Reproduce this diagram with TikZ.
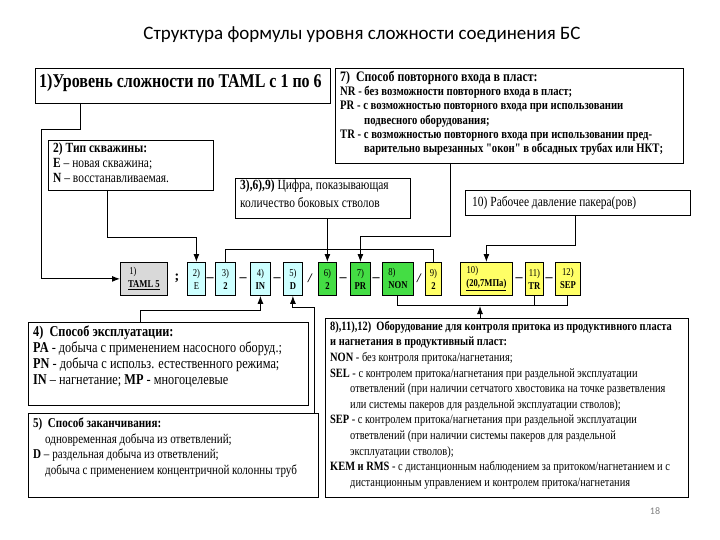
\documentclass[tikz,border=0pt]{standalone}
\usepackage{fontspec}
\setmainfont{Liberation Serif}
\newfontfamily\cond[FakeStretch=0.82]{Liberation Serif}
\newfontfamily\ttl{Carlito}
\usetikzlibrary{arrows.meta}
\definecolor{cgray}{HTML}{D9D9D9}
\definecolor{cblue}{HTML}{CCFFFF}
\definecolor{cgreen}{HTML}{44DD44}
\definecolor{cyel}{HTML}{FFFF66}
\tikzset{
  box/.style={draw=black, line width=1pt, fill=white, inner sep=0pt},
  txt/.style={anchor=north west, align=left, inner sep=0pt, font=\cond},
  code/.style={draw=black, line width=0.8pt, inner sep=0pt, minimum height=33, align=center, font=\cond\fontsize{10.5}{11}\selectfont},
  sep/.style={font=\bfseries\fontsize{14}{14}\selectfont, inner sep=0pt},
  con/.style={draw=black, line width=1pt},
  arr/.style={con, -{Latex[length=8pt,width=6pt]}},
}
\begin{document}
\begin{tikzpicture}[x=1pt,y=-1pt]
\useasboundingbox (0,0) rectangle (720,540);
\node[font=\ttl\fontsize{19}{20}\selectfont] (title) at (362,35) {Структура формулы уровня сложности соединения БС};
% top boxes
\node[box, minimum width=295, minimum height=35, anchor=north west] (b1) at (35,68) {};
\node[txt, font=\cond\fontsize{19.5}{20}\selectfont\bfseries] (t1) at (39,74) {1)Уровень сложности по TAML с 1 по 6};
\node[box, minimum width=348, minimum height=95, anchor=north west] (b7) at (335,68) {};
\node[txt, font=\cond\bfseries\fontsize{13}{14.2}\selectfont] (t7) at (340,71) {{\fontsize{14.5}{14}\selectfont 7)\ \ Способ повторного входа в пласт:}\\
NR - без возможности повторного входа в пласт;\\
PR - с возможностью повторного входа при использовании\\
\hspace*{24pt}подвесного оборудования;\\
TR - с возможностью повторного входа при использовании пред-\\
\hspace*{24pt}варительно вырезанных "окон" в обсадных трубах или НКТ;};
\node[box, minimum width=165, minimum height=50, anchor=north west] (b2) at (48,140) {};
\node[txt, font=\cond\fontsize{14}{15}\selectfont] (t2) at (53,143) {\textbf{2) Тип скважины:}\\ \textbf{E} – новая скважина;\\ \textbf{N} – восстанавливаемая.};
\node[box, minimum width=175, minimum height=40, anchor=north west] (b3) at (235,178) {};
\node[txt, font=\cond\fontsize{14}{18}\selectfont] (t3) at (240,180) {\textbf{3),6),9)} Цифра, показывающая\\ количество боковых стволов};
\node[box, minimum width=225, minimum height=25, anchor=north west] (b10) at (465,190) {};
\node[txt, font=\cond\fontsize{14}{14}\selectfont] (t10) at (472,196) {10) Рабочее давление пакера(ров)};
% codes row
\node[code, fill=cgray, minimum width=47, anchor=north west] (c1) at (120,262) {1)\hspace*{22pt}\\[2pt]\textbf{\underline{TAML 5}}};
\node[sep] (s1) at (177,278) {;};
\node[code, fill=cblue, minimum width=18, anchor=north west] (c2) at (187,262) {2)\\[2pt]E};
\node[code, fill=cblue, minimum width=20, anchor=north west] (c3) at (215,262) {3)\\[2pt]\textbf{2}};
\node[code, fill=cblue, minimum width=20, anchor=north west] (c4) at (250,262) {4)\\[2pt]\textbf{IN}};
\node[code, fill=cblue, minimum width=19, anchor=north west] (c5) at (283,262) {5)\\[2pt]\textbf{D}};
\node[code, fill=cgreen, minimum width=18, anchor=north west] (c6) at (318,262) {6)\\[2pt]\textbf{2}};
\node[code, fill=cgreen, minimum width=20, anchor=north west] (c7) at (350,262) {7)\\[2pt]\textbf{PR}};
\node[code, fill=cgreen, minimum width=31, anchor=north west] (c8) at (382,262) {8)\hspace*{12pt}\\[2pt]\textbf{NON}};
\node[code, fill=cyel, minimum width=16, anchor=north west] (c9) at (425,262) {9)\\[2pt]\textbf{2}};
\node[code, fill=cyel, minimum width=52, anchor=north west] (c10) at (460,262) {10)\hspace*{28pt}\\[2pt]\textbf{\underline{(20,7МПа)}}};
\node[code, fill=cyel, minimum width=18, anchor=north west] (c11) at (525,262) {11)\\[2pt]\textbf{TR}};
\node[code, fill=cyel, minimum width=25, anchor=north west] (c12) at (555,262) {12)\\[2pt]\textbf{SEP}};
\node[sep] (d1) at (210,280) {–};
\node[sep] (d2) at (243,280) {–};
\node[sep] (d3) at (277,280) {–};
\node[sep, font=\itshape\bfseries\fontsize{13}{13}\selectfont] (sl1) at (310,278) {/};
\node[sep] (d4) at (343,280) {–};
\node[sep] (d5) at (376,280) {–};
\node[sep, font=\itshape\bfseries\fontsize{13}{13}\selectfont] (sl2) at (419,278) {/};
\node[sep] (d6) at (519,280) {–};
\node[sep] (d7) at (549,280) {–};
% bottom boxes
\node[box, minimum width=280, minimum height=83, anchor=north west] (b4) at (28,322) {};
\node[txt, font=\cond\fontsize{15}{16}\selectfont] (t4) at (33,326) {\textbf{4)\ \ Способ эксплуатации:}\\
\textbf{PA} - добыча с применением насосного оборуд.;\\
\textbf{PN} - добыча с использ. естественного режима;\\
\textbf{IN} – нагнетание; \textbf{MP} - многоцелевые};
\node[box, minimum width=290, minimum height=84, anchor=north west] (b5) at (28,413) {};
\node[txt, font=\cond\fontsize{13.5}{15.5}\selectfont] (t5) at (33,418) {\textbf{5)\ \ Способ заканчивания:}\\
\hspace*{12pt}одновременная добыча из ответвлений;\\
\textbf{D} – раздельная добыча из ответвлений;\\
\hspace*{12pt}добыча с применением концентричной колонны труб};
\node[box, minimum width=363, minimum height=179, anchor=north west] (b8) at (325,318) {};
\node[txt, font=\cond\fontsize{12.7}{15.6}\selectfont] (t8) at (330,321) {\textbf{8),11),12)\ \ Оборудование для контроля притока из продуктивного пласта}\\
\textbf{и нагнетания в продуктивный пласт:}\\
\textbf{NON} - без контроля притока/нагнетания;\\
\textbf{SEL} - с контролем притока/нагнетания при раздельной эксплуатации\\
\hspace*{20pt}ответвлений (при наличии сетчатого хвостовика на точке разветвления\\
\hspace*{20pt}или системы пакеров для раздельной эксплуатации стволов);\\
\textbf{SEP} - с контролем притока/нагнетания при раздельной эксплуатации\\
\hspace*{20pt}ответвлений (при наличии системы пакеров для раздельной\\
\hspace*{20pt}эксплуатации стволов);\\
\textbf{KEM и RMS} - с дистанционным наблюдением за притоком/нагнетанием и с\\
\hspace*{20pt}дистанционным управлением и контролем притока/нагнетания};
\node[font=\ttl\fontsize{10}{10}\selectfont, text=gray] (pg) at (655,511) {18};
% connectors
\coordinate (k1) at (80,103);
\draw[arr] (k1) -- (80,130) -- (41,130) |- (c1.west);
\coordinate (k2) at (107,190);
\draw[arr] (k2) -- (107,237) -| (c2.north);
\draw[arr] (c6.north |- b3.south) -- (c6.north);
\draw[con] (c3.north) -- ++(0,-13) -| (c9.north);
\coordinate (k7) at (450,163);
\draw[arr] (k7) -- (450,236) -| (c7.north);
\coordinate (k10) at (575,215);
\draw[arr] (k10) -- (575,245) -| (c10.north);
\coordinate (k4) at (140,322);
\draw[arr] (k4) -- (140,310) -| (c4.south);
\coordinate (k5) at (314,413);
\draw[arr] (k5) -- (314,307) -| (c5.south);
\draw[con] (c8.south) -- ++(0,10) -| (c12.south);
\draw[con] (c11.south) -- ++(0,10);
\coordinate (k8) at (480,318);
\draw[arr] (k8) -- (480,306);
\end{tikzpicture}
\end{document}
